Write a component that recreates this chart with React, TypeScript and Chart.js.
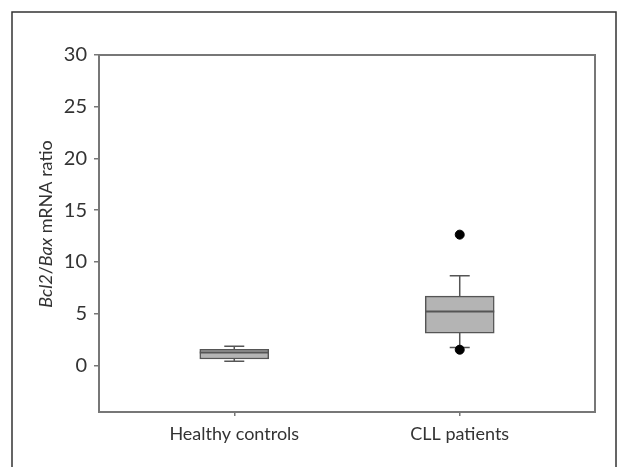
import React, { useEffect, useRef } from 'react';
import { Chart, registerables } from 'chart.js';

Chart.register(...registerables);

const categories = ['Healthy controls', 'CLL patients'];
const whiskerLow = [0.4, 1.74];
const q1Values = [0.62, 3.13];
const medianValues = [1.25, 5.21];
const q3Values = [1.55, 6.7];
const whiskerHigh = [1.85, 8.66];
const outlierGroup = [2, 2];
const outlierValues = [12.64, 1.52];
const yTicks = [0, 5, 10, 15, 20, 25, 30];
const yMin = -4.5;
const yMax = 30;

const AXIS_COLOR = '#777777';
const TEXT_COLOR = '#333333';
const BOX_EDGE = '#555555';
const CAP_HALF = 10;
const FONT = 'Lato, "Open Sans", sans-serif';

const boxExtras = {
  id: 'boxExtras',
  beforeDraw(chart: any) {
    const ctx = chart.ctx;
    ctx.save();
    ctx.fillStyle = '#ffffff';
    ctx.fillRect(0, 0, chart.width, chart.height);
    ctx.strokeStyle = '#333333';
    ctx.lineWidth = 1.5;
    ctx.strokeRect(12, 12, 604, 600);
    ctx.restore();
  },
  beforeDatasetsDraw(chart: any) {
    const ctx = chart.ctx;
    const xs = chart.scales.x;
    const ys = chart.scales.y;
    ctx.save();
    ctx.strokeStyle = BOX_EDGE;
    ctx.lineWidth = 1.5;
    categories.forEach((_, i) => {
      const x = xs.getPixelForValue(i + 1);
      const pairs = [
        [q3Values[i], whiskerHigh[i]],
        [q1Values[i], whiskerLow[i]],
      ];
      pairs.forEach(([from, to]) => {
        const y0 = ys.getPixelForValue(from);
        const y1 = ys.getPixelForValue(to);
        ctx.beginPath();
        ctx.moveTo(x, y0);
        ctx.lineTo(x, y1);
        ctx.moveTo(x - CAP_HALF, y1);
        ctx.lineTo(x + CAP_HALF, y1);
        ctx.stroke();
      });
    });
    ctx.restore();
  },
  afterDatasetDraw(chart: any, args: any) {
    if (args.index !== 0) return;
    const ctx = chart.ctx;
    const xs = chart.scales.x;
    const ys = chart.scales.y;
    const meta = chart.getDatasetMeta(0);
    ctx.save();
    ctx.strokeStyle = BOX_EDGE;
    ctx.lineWidth = 2;
    categories.forEach((_, i) => {
      const bar = meta.data[i];
      const half = bar.width / 2;
      const x = xs.getPixelForValue(i + 1);
      const y = ys.getPixelForValue(medianValues[i]);
      ctx.beginPath();
      ctx.moveTo(x - half, y);
      ctx.lineTo(x + half, y);
      ctx.stroke();
    });
    ctx.restore();
  },
  afterDraw(chart: any) {
    const ctx = chart.ctx;
    const a = chart.chartArea;
    ctx.save();
    ctx.strokeStyle = AXIS_COLOR;
    ctx.lineWidth = 2;
    ctx.strokeRect(a.left, a.top, a.right - a.left, a.bottom - a.top);

    const parts = [
      { t: 'Bcl2', italic: true },
      { t: '/', italic: false },
      { t: 'Bax', italic: true },
      { t: ' mRNA ratio', italic: false },
    ];
    const size = 18;
    const fontFor = (it: boolean) => `${it ? 'italic ' : ''}${size}px ${FONT}`;
    let total = 0;
    parts.forEach((p) => {
      ctx.font = fontFor(p.italic);
      total += ctx.measureText(p.t).width;
    });
    ctx.translate(46, 224);
    ctx.rotate(-Math.PI / 2);
    ctx.fillStyle = TEXT_COLOR;
    ctx.textBaseline = 'middle';
    ctx.textAlign = 'left';
    let x = -total / 2;
    parts.forEach((p) => {
      ctx.font = fontFor(p.italic);
      ctx.fillText(p.t, x, 0);
      x += ctx.measureText(p.t).width;
    });
    ctx.restore();
  },
};

export default function App() {
  const ref = useRef<HTMLCanvasElement | null>(null);

  useEffect(() => {
    if (!ref.current) return;
    const boxData = categories.map((_, i) => ({ x: i + 1, y: [q1Values[i], q3Values[i]] }));
    const outlierData = outlierValues.map((v, i) => ({ x: outlierGroup[i], y: v }));
    const chart = new Chart(ref.current, {
      type: 'bar',
      data: {
        datasets: [
          {
            type: 'bar',
            data: boxData as any,
            backgroundColor: '#b4b4b4',
            borderColor: BOX_EDGE,
            borderWidth: 1.5,
            borderSkipped: false,
            barThickness: 69,
          } as any,
          {
            type: 'scatter',
            data: outlierData,
            backgroundColor: '#000000',
            borderColor: '#000000',
            pointRadius: 4.5,
          } as any,
        ],
      },
      options: {
        animation: false,
        responsive: false,
        events: [],
        layout: { padding: { left: 0, top: 55, right: 24, bottom: 0 } },
        plugins: { legend: { display: false }, tooltip: { enabled: false } },
        scales: {
          x: {
            type: 'linear',
            min: 0.4,
            max: 2.6,
            offset: false,
            afterBuildTicks: (s: any) => {
              s.ticks = categories.map((_, i) => ({ value: i + 1 }));
            },
            afterFit: (s: any) => {
              s.height = 55;
            },
            grid: { offset: false, drawOnChartArea: false, drawTicks: true, tickLength: 4, color: AXIS_COLOR, lineWidth: 1.5 },
            border: { display: false },
            ticks: {
              autoSkip: false,
              maxRotation: 0,
              padding: 7,
              color: TEXT_COLOR,
              font: { family: FONT, size: 18 },
              callback: (v: any) => categories[Number(v) - 1] ?? '',
            },
          },
          y: {
            type: 'linear',
            min: yMin,
            max: yMax,
            afterBuildTicks: (s: any) => {
              s.ticks = yTicks.map((v) => ({ value: v }));
            },
            afterFit: (s: any) => {
              s.width = 99;
            },
            grid: { drawOnChartArea: false, drawTicks: true, tickLength: 5, color: AXIS_COLOR, lineWidth: 1.5 },
            border: { display: false },
            ticks: {
              padding: 7,
              color: TEXT_COLOR,
              font: { family: FONT, size: 20 },
            },
          },
        },
      },
      plugins: [boxExtras as any],
    } as any);
    return () => chart.destroy();
  }, []);

  return (
    <div style={{ position: 'absolute', left: 0, top: 0, width: 619, height: 467, background: '#fff' }}>
      <canvas ref={ref} width={619} height={467} style={{ display: 'block' }} />
    </div>
  );
}
